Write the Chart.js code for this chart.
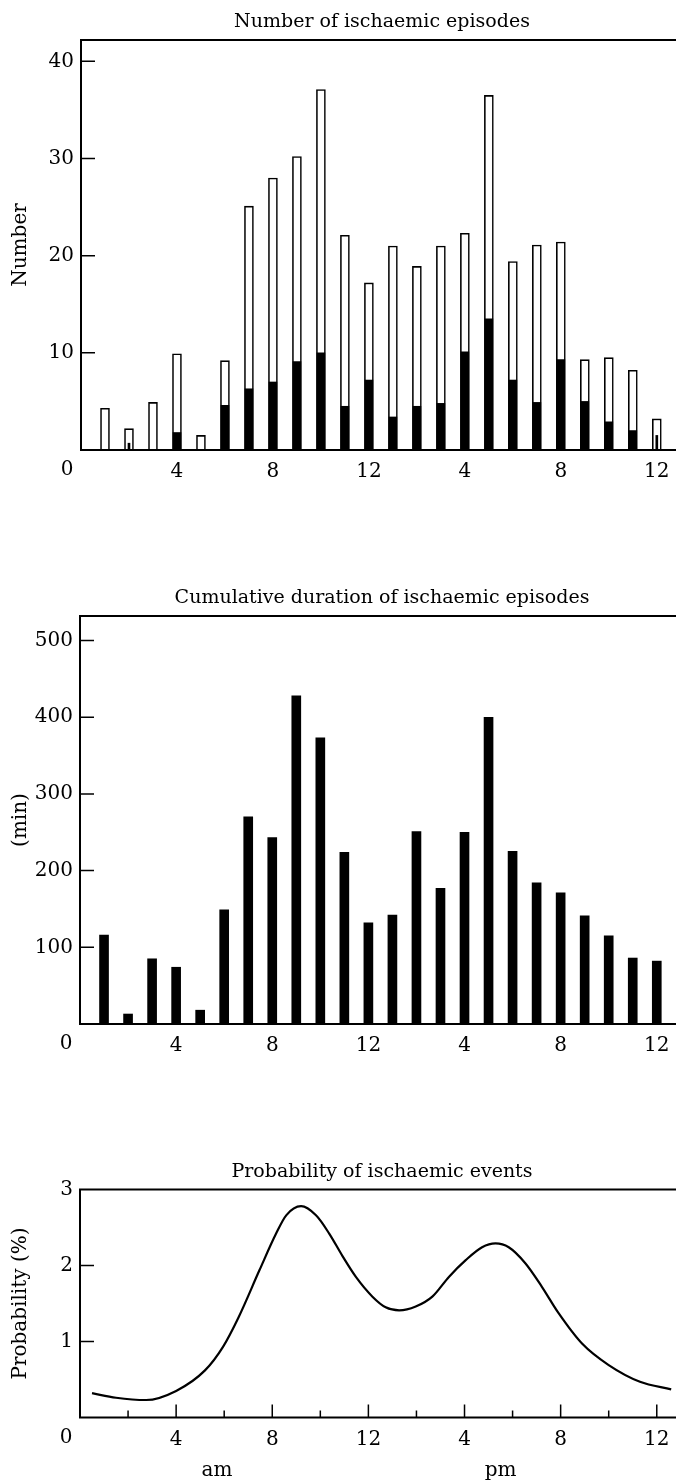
<!DOCTYPE html>
<html>
<head>
<meta charset="utf-8">
<script src="https://cdn.jsdelivr.net/npm/chart.js@4.4.0/dist/chart.umd.min.js"></script>
<style>
  html, body { margin: 0; padding: 0; background: #fff; overflow: hidden; }
  canvas { position: absolute; left: 0; }
</style>
</head>
<body>
<canvas id="c1" width="676" height="520" style="top:0"></canvas>
<canvas id="c2" width="676" height="540" style="top:540px"></canvas>
<canvas id="c3" width="676" height="381" style="top:1100px"></canvas>
<script>
// hour of day (bars sit at 1..24)
const hours = [1, 2, 3, 4, 5, 6, 7, 8, 9, 10, 11, 12, 13, 14, 15, 16, 17, 18, 19, 20, 21, 22, 23, 24];
// number of episodes: open bar = total, black part
const episodesTotal = [4.3, 2.2, 4.9, 9.9, 1.5, 9.2, 25.1, 28.0, 30.2, 37.1, 22.1, 17.2, 21.0, 18.9, 21.0, 22.3, 36.5, 19.4, 21.1, 21.4, 9.3, 9.5, 8.2, 3.2];
const episodesBlack = [0, 0, 0, 1.8, 0, 4.6, 6.3, 7.0, 9.1, 10.0, 4.5, 7.2, 3.4, 4.5, 4.8, 10.1, 13.5, 7.2, 4.9, 9.3, 5.0, 2.9, 2.0, 0];
const episodesThin = [0, 0.7, 0, 0, 0, 0, 0, 0, 0, 0, 0, 0, 0, 0, 0, 0, 0, 0, 0, 0, 0, 0, 0, 1.5];
// cumulative duration (min)
const durationMin = [116, 13, 85, 74, 18, 149, 270, 243, 428, 373, 224, 132, 142, 251, 177, 250, 400, 225, 184, 171, 141, 115, 86, 82];
// probability curve
const probHours = [0.5, 1.5, 2.75, 4.0, 5.2, 5.95, 6.6, 7.47, 8.16, 8.58, 9.2, 9.82, 10.37, 10.93, 11.48, 12.17, 12.72, 13.28, 13.97, 14.66, 15.35, 16.05, 16.73, 17.29, 17.84, 18.53, 19.22, 19.9, 20.9, 22.0, 23.3, 24.6];
const probValues = [0.32, 0.26, 0.23, 0.35, 0.62, 0.93, 1.32, 1.94, 2.42, 2.66, 2.78, 2.66, 2.42, 2.12, 1.85, 1.59, 1.45, 1.41, 1.46, 1.59, 1.85, 2.07, 2.24, 2.29, 2.24, 2.03, 1.72, 1.38, 0.97, 0.69, 0.47, 0.37];
// x tick labels (clock hours)
const hourTicks = [4, 8, 12, 16, 20, 24];
const hourLabels = ['4', '8', '12', '4', '8', '12'];

const SERIF = '"DejaVu Serif", "Liberation Serif", serif';
Chart.defaults.font.family = SERIF;
Chart.defaults.color = '#000';
Chart.defaults.animation = false;

const pts = (xs, ys) => xs.map((x, i) => ({ x, y: ys[i] }));

// frame, inward ticks, titles
const frame = {
  id: 'frame',
  afterDraw(chart, args, o) {
    const { ctx, chartArea: a, scales } = chart;
    ctx.save();
    ctx.strokeStyle = '#000';
    ctx.lineWidth = 2;
    ctx.beginPath();
    ctx.moveTo(a.right, a.top);
    ctx.lineTo(a.left, a.top);
    ctx.lineTo(a.left, a.bottom);
    ctx.lineTo(a.right, a.bottom);
    ctx.stroke();

    ctx.lineWidth = 1.5;
    ctx.beginPath();
    scales.y.ticks.forEach((t) => {
      if (t.value <= 0 || t.value >= scales.y.max) return;
      const y = scales.y.getPixelForValue(t.value);
      ctx.moveTo(a.left, y);
      ctx.lineTo(a.left + 14, y);
    });
    (o.xTicks || []).forEach((v) => {
      const x = scales.x.getPixelForValue(v);
      ctx.moveTo(x, a.bottom);
      ctx.lineTo(x, a.bottom - (v % 4 === 0 ? 13 : 7));
    });
    ctx.stroke();

    ctx.fillStyle = '#000';
    ctx.textAlign = 'center';
    ctx.textBaseline = 'alphabetic';
    ctx.font = '19px ' + SERIF;
    ctx.fillText(o.title, 382, a.top - 13);

    ctx.font = '20px ' + SERIF;
    ctx.textBaseline = 'middle';
    ctx.fillText('0', a.left - 14, a.bottom + 20);
    (o.notes || []).forEach((n) => {
      ctx.fillText(n.text, scales.x.getPixelForValue(n.x), a.bottom + 53);
    });

    ctx.translate(21, (a.top + a.bottom) / 2);
    ctx.rotate(-Math.PI / 2);
    ctx.fillText(o.yTitle, 0, 0);
    ctx.restore();
  },
};

function xScale(max, axisH) {
  return {
    type: 'linear', min: 0, max, offset: false,
    grid: { display: false, drawTicks: false },
    border: { display: false },
    afterBuildTicks: (s) => { s.ticks = hourTicks.map((v) => ({ value: v })); },
    afterFit: (s) => { s.height = axisH; s.paddingLeft = 0; s.paddingRight = 0; },
    ticks: {
      padding: 10, maxRotation: 0, autoSkip: false,
      font: { size: 20 },
      callback: (v) => hourLabels[hourTicks.indexOf(v)] ?? '',
    },
  };
}

function yScale(max, step, w) {
  return {
    min: 0, max,
    grid: { display: false, drawTicks: false },
    border: { display: false },
    afterFit: (s) => { s.width = w; s.paddingTop = 0; s.paddingBottom = 0; },
    ticks: {
      stepSize: step, includeBounds: false, padding: 7,
      font: { size: 20 },
      callback: (v) => (v === 0 ? '' : v),
    },
  };
}

new Chart(document.getElementById('c1'), {
  type: 'bar',
  data: {
    datasets: [
      { data: pts(hours, episodesBlack), backgroundColor: '#000', borderWidth: 0, barThickness: 8, order: 0 },
      { data: pts(hours, episodesThin), backgroundColor: '#000', borderWidth: 0, barThickness: 2, order: 0 },
      { data: pts(hours, episodesTotal), backgroundColor: '#fff', borderColor: '#000', borderWidth: 1.6, barThickness: 9, order: 1 },
    ],
  },
  options: {
    responsive: false,
    grouped: false,
    layout: { autoPadding: false, padding: { top: 40, right: 0, bottom: 0, left: 0 } },
    plugins: {
      legend: { display: false }, tooltip: { enabled: false },
      frame: { title: 'Number of ischaemic episodes', yTitle: 'Number' },
    },
    scales: { x: xScale(24.8, 70), y: yScale(42.2, 10, 81) },
  },
  plugins: [frame],
});

new Chart(document.getElementById('c2'), {
  type: 'bar',
  data: {
    datasets: [
      { data: pts(hours, durationMin), backgroundColor: '#000', borderWidth: 0, barThickness: 9 },
    ],
  },
  options: {
    responsive: false,
    layout: { autoPadding: false, padding: { top: 76, right: 0, bottom: 0, left: 0 } },
    plugins: {
      legend: { display: false }, tooltip: { enabled: false },
      frame: { title: 'Cumulative duration of ischaemic episodes', yTitle: '(min)' },
    },
    scales: { x: xScale(24.8, 56), y: yScale(532, 100, 80) },
  },
  plugins: [frame],
});

new Chart(document.getElementById('c3'), {
  type: 'line',
  data: {
    datasets: [
      { data: pts(probHours, probValues), borderColor: '#000', borderWidth: 2.2, pointRadius: 0, cubicInterpolationMode: 'monotone', fill: false },
    ],
  },
  options: {
    responsive: false,
    layout: { autoPadding: false, padding: { top: 89.5, right: 0, bottom: 0, left: 0 } },
    plugins: {
      legend: { display: false }, tooltip: { enabled: false },
      frame: {
        title: 'Probability of ischaemic events', yTitle: 'Probability (%)',
        xTicks: [2, 4, 6, 8, 10, 12, 14, 16, 18, 20, 22, 24],
        notes: [{ x: 5.7, text: 'am' }, { x: 17.5, text: 'pm' }],
      },
    },
    scales: { x: xScale(24.8, 63.5), y: yScale(3, 1, 80) },
  },
  plugins: [frame],
});
</script>
</body>
</html>
